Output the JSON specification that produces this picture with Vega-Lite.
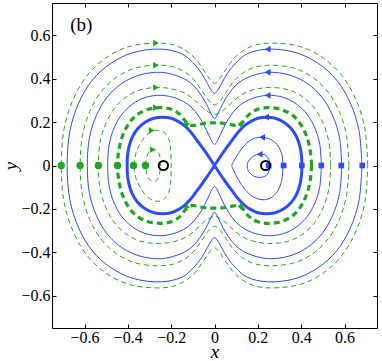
{
"$schema":"https://vega.github.io/schema/vega-lite/v6.json",
"width":325,"height":325,
"autosize":{"type":"none"},
"padding":{"left":52,"top":3,"right":5,"bottom":33},
"background":"white",
"config":{"view":{"stroke":null},
"axis":{"domainColor":"#000","domainWidth":1,"tickColor":"#000","tickWidth":1,"tickSize":-4,"labelColor":"#000","labelFont":"Liberation Serif","labelFontSize":16,"titleFont":"Liberation Serif","titleFontSize":19,"titleFontStyle":"italic","titleFontWeight":"normal","titleColor":"#000","grid":false}},
"datasets":{
"curves":[
{"c":"B6","x":0.68,"y":0},{"c":"B6","x":0.667,"y":0.161},{"c":"B6","x":0.627,"y":0.288},{"c":"B6","x":0.564,"y":0.394},{"c":"B6","x":0.479,"y":0.471},{"c":"B6","x":0.376,"y":0.521},{"c":"B6","x":0.245,"y":0.537},{"c":"B6","x":0.15,"y":0.515},{"c":"B6","x":0.1,"y":0.475},{"c":"B6","x":0.06,"y":0.426},{"c":"B6","x":0.032,"y":0.377},{"c":"B6","x":0.012,"y":0.343},{"c":"B6","x":0,"y":0.333},
{"c":"B6","x":-0.012,"y":0.343},{"c":"B6","x":-0.032,"y":0.377},{"c":"B6","x":-0.06,"y":0.426},{"c":"B6","x":-0.1,"y":0.475},{"c":"B6","x":-0.15,"y":0.515},{"c":"B6","x":-0.245,"y":0.537},{"c":"B6","x":-0.376,"y":0.521},{"c":"B6","x":-0.479,"y":0.471},{"c":"B6","x":-0.564,"y":0.394},{"c":"B6","x":-0.627,"y":0.288},{"c":"B6","x":-0.667,"y":0.161},{"c":"B6","x":-0.68,"y":0},
{"c":"B6","x":-0.667,"y":-0.161},{"c":"B6","x":-0.627,"y":-0.288},{"c":"B6","x":-0.564,"y":-0.394},{"c":"B6","x":-0.479,"y":-0.471},{"c":"B6","x":-0.376,"y":-0.521},{"c":"B6","x":-0.245,"y":-0.537},{"c":"B6","x":-0.15,"y":-0.515},{"c":"B6","x":-0.1,"y":-0.475},{"c":"B6","x":-0.06,"y":-0.426},{"c":"B6","x":-0.032,"y":-0.377},{"c":"B6","x":-0.012,"y":-0.343},{"c":"B6","x":0,"y":-0.333},
{"c":"B6","x":0.012,"y":-0.343},{"c":"B6","x":0.032,"y":-0.377},{"c":"B6","x":0.06,"y":-0.426},{"c":"B6","x":0.1,"y":-0.475},{"c":"B6","x":0.15,"y":-0.515},{"c":"B6","x":0.245,"y":-0.537},{"c":"B6","x":0.376,"y":-0.521},{"c":"B6","x":0.479,"y":-0.471},{"c":"B6","x":0.564,"y":-0.394},{"c":"B6","x":0.627,"y":-0.288},{"c":"B6","x":0.667,"y":-0.161},{"c":"B6","x":0.68,"y":0},

{"c":"B5","x":0.587,"y":0},{"c":"B5","x":0.577,"y":0.129},{"c":"B5","x":0.545,"y":0.231},{"c":"B5","x":0.496,"y":0.315},{"c":"B5","x":0.429,"y":0.378},{"c":"B5","x":0.348,"y":0.417},{"c":"B5","x":0.245,"y":0.43},{"c":"B5","x":0.15,"y":0.405},{"c":"B5","x":0.1,"y":0.372},{"c":"B5","x":0.065,"y":0.33},{"c":"B5","x":0.038,"y":0.285},{"c":"B5","x":0.016,"y":0.24},{"c":"B5","x":0,"y":0.216},
{"c":"B5","x":-0.016,"y":0.24},{"c":"B5","x":-0.038,"y":0.285},{"c":"B5","x":-0.065,"y":0.33},{"c":"B5","x":-0.1,"y":0.372},{"c":"B5","x":-0.15,"y":0.405},{"c":"B5","x":-0.245,"y":0.43},{"c":"B5","x":-0.348,"y":0.417},{"c":"B5","x":-0.429,"y":0.378},{"c":"B5","x":-0.496,"y":0.315},{"c":"B5","x":-0.545,"y":0.231},{"c":"B5","x":-0.577,"y":0.129},{"c":"B5","x":-0.587,"y":0},
{"c":"B5","x":-0.577,"y":-0.129},{"c":"B5","x":-0.545,"y":-0.231},{"c":"B5","x":-0.496,"y":-0.315},{"c":"B5","x":-0.429,"y":-0.378},{"c":"B5","x":-0.348,"y":-0.417},{"c":"B5","x":-0.245,"y":-0.43},{"c":"B5","x":-0.15,"y":-0.405},{"c":"B5","x":-0.1,"y":-0.372},{"c":"B5","x":-0.065,"y":-0.33},{"c":"B5","x":-0.038,"y":-0.285},{"c":"B5","x":-0.016,"y":-0.24},{"c":"B5","x":0,"y":-0.216},
{"c":"B5","x":0.016,"y":-0.24},{"c":"B5","x":0.038,"y":-0.285},{"c":"B5","x":0.065,"y":-0.33},{"c":"B5","x":0.1,"y":-0.372},{"c":"B5","x":0.15,"y":-0.405},{"c":"B5","x":0.245,"y":-0.43},{"c":"B5","x":0.348,"y":-0.417},{"c":"B5","x":0.429,"y":-0.378},{"c":"B5","x":0.496,"y":-0.315},{"c":"B5","x":0.545,"y":-0.231},{"c":"B5","x":0.577,"y":-0.129},{"c":"B5","x":0.587,"y":0},

{"c":"B4","x":0.493,"y":0},{"c":"B4","x":0.486,"y":0.097},{"c":"B4","x":0.463,"y":0.174},{"c":"B4","x":0.427,"y":0.237},{"c":"B4","x":0.378,"y":0.284},{"c":"B4","x":0.319,"y":0.314},{"c":"B4","x":0.245,"y":0.324},{"c":"B4","x":0.17,"y":0.308},{"c":"B4","x":0.12,"y":0.28},{"c":"B4","x":0.08,"y":0.238},{"c":"B4","x":0.05,"y":0.19},{"c":"B4","x":0.025,"y":0.138},{"c":"B4","x":0.009,"y":0.106},{"c":"B4","x":0,"y":0.097},
{"c":"B4","x":-0.009,"y":0.106},{"c":"B4","x":-0.025,"y":0.138},{"c":"B4","x":-0.05,"y":0.19},{"c":"B4","x":-0.08,"y":0.238},{"c":"B4","x":-0.12,"y":0.28},{"c":"B4","x":-0.17,"y":0.308},{"c":"B4","x":-0.245,"y":0.324},{"c":"B4","x":-0.319,"y":0.314},{"c":"B4","x":-0.378,"y":0.284},{"c":"B4","x":-0.427,"y":0.237},{"c":"B4","x":-0.463,"y":0.174},{"c":"B4","x":-0.486,"y":0.097},{"c":"B4","x":-0.493,"y":0},
{"c":"B4","x":-0.486,"y":-0.097},{"c":"B4","x":-0.463,"y":-0.174},{"c":"B4","x":-0.427,"y":-0.237},{"c":"B4","x":-0.378,"y":-0.284},{"c":"B4","x":-0.319,"y":-0.314},{"c":"B4","x":-0.245,"y":-0.324},{"c":"B4","x":-0.17,"y":-0.308},{"c":"B4","x":-0.12,"y":-0.28},{"c":"B4","x":-0.08,"y":-0.238},{"c":"B4","x":-0.05,"y":-0.19},{"c":"B4","x":-0.025,"y":-0.138},{"c":"B4","x":-0.009,"y":-0.106},{"c":"B4","x":0,"y":-0.097},
{"c":"B4","x":0.009,"y":-0.106},{"c":"B4","x":0.025,"y":-0.138},{"c":"B4","x":0.05,"y":-0.19},{"c":"B4","x":0.08,"y":-0.238},{"c":"B4","x":0.12,"y":-0.28},{"c":"B4","x":0.17,"y":-0.308},{"c":"B4","x":0.245,"y":-0.324},{"c":"B4","x":0.319,"y":-0.314},{"c":"B4","x":0.378,"y":-0.284},{"c":"B4","x":0.427,"y":-0.237},{"c":"B4","x":0.463,"y":-0.174},{"c":"B4","x":0.486,"y":-0.097},{"c":"B4","x":0.493,"y":0},

{"c":"B2","x":0.316,"y":0},{"c":"B2","x":0.31,"y":0.055},{"c":"B2","x":0.29,"y":0.095},{"c":"B2","x":0.26,"y":0.12},{"c":"B2","x":0.22,"y":0.13},{"c":"B2","x":0.18,"y":0.124},{"c":"B2","x":0.14,"y":0.095},{"c":"B2","x":0.11,"y":0.055},{"c":"B2","x":0.088,"y":0.018},{"c":"B2","x":0.08,"y":0},{"c":"B2","x":0.088,"y":-0.022},{"c":"B2","x":0.11,"y":-0.065},{"c":"B2","x":0.14,"y":-0.11},{"c":"B2","x":0.18,"y":-0.145},{"c":"B2","x":0.22,"y":-0.158},{"c":"B2","x":0.26,"y":-0.15},{"c":"B2","x":0.29,"y":-0.12},{"c":"B2","x":0.31,"y":-0.07},{"c":"B2","x":0.316,"y":0},

{"c":"B1","x":0.255,"y":0},{"c":"B1","x":0.25,"y":0.03},{"c":"B1","x":0.235,"y":0.048},{"c":"B1","x":0.208,"y":0.052},{"c":"B1","x":0.18,"y":0.043},{"c":"B1","x":0.16,"y":0.025},{"c":"B1","x":0.151,"y":0},{"c":"B1","x":0.158,"y":-0.028},{"c":"B1","x":0.18,"y":-0.048},{"c":"B1","x":0.21,"y":-0.055},{"c":"B1","x":0.24,"y":-0.045},{"c":"B1","x":0.252,"y":-0.025},{"c":"B1","x":0.255,"y":0},

{"c":"B3","x":0,"y":0},{"c":"B3","x":0.025,"y":0.038},{"c":"B3","x":0.05,"y":0.074},{"c":"B3","x":0.08,"y":0.115},{"c":"B3","x":0.11,"y":0.155},{"c":"B3","x":0.14,"y":0.185},{"c":"B3","x":0.17,"y":0.205},{"c":"B3","x":0.2,"y":0.218},{"c":"B3","x":0.238,"y":0.223},{"c":"B3","x":0.28,"y":0.218},{"c":"B3","x":0.32,"y":0.2},{"c":"B3","x":0.355,"y":0.17},{"c":"B3","x":0.38,"y":0.13},{"c":"B3","x":0.395,"y":0.085},{"c":"B3","x":0.402,"y":0.04},{"c":"B3","x":0.403,"y":0},{"c":"B3","x":0.402,"y":-0.04},{"c":"B3","x":0.395,"y":-0.085},{"c":"B3","x":0.38,"y":-0.13},{"c":"B3","x":0.355,"y":-0.17},{"c":"B3","x":0.32,"y":-0.2},{"c":"B3","x":0.28,"y":-0.218},{"c":"B3","x":0.238,"y":-0.223},{"c":"B3","x":0.2,"y":-0.218},{"c":"B3","x":0.17,"y":-0.205},{"c":"B3","x":0.14,"y":-0.185},{"c":"B3","x":0.11,"y":-0.155},{"c":"B3","x":0.08,"y":-0.115},{"c":"B3","x":0.05,"y":-0.074},{"c":"B3","x":0.025,"y":-0.038},{"c":"B3","x":0,"y":0},
{"c":"B3","x":-0.025,"y":0.038},{"c":"B3","x":-0.05,"y":0.074},{"c":"B3","x":-0.08,"y":0.115},{"c":"B3","x":-0.11,"y":0.155},{"c":"B3","x":-0.14,"y":0.185},{"c":"B3","x":-0.17,"y":0.205},{"c":"B3","x":-0.2,"y":0.218},{"c":"B3","x":-0.238,"y":0.223},{"c":"B3","x":-0.28,"y":0.218},{"c":"B3","x":-0.32,"y":0.2},{"c":"B3","x":-0.355,"y":0.17},{"c":"B3","x":-0.38,"y":0.13},{"c":"B3","x":-0.395,"y":0.085},{"c":"B3","x":-0.402,"y":0.04},{"c":"B3","x":-0.403,"y":0},{"c":"B3","x":-0.402,"y":-0.04},{"c":"B3","x":-0.395,"y":-0.085},{"c":"B3","x":-0.38,"y":-0.13},{"c":"B3","x":-0.355,"y":-0.17},{"c":"B3","x":-0.32,"y":-0.2},{"c":"B3","x":-0.28,"y":-0.218},{"c":"B3","x":-0.238,"y":-0.223},{"c":"B3","x":-0.2,"y":-0.218},{"c":"B3","x":-0.17,"y":-0.205},{"c":"B3","x":-0.14,"y":-0.185},{"c":"B3","x":-0.11,"y":-0.155},{"c":"B3","x":-0.08,"y":-0.115},{"c":"B3","x":-0.05,"y":-0.074},{"c":"B3","x":-0.025,"y":-0.038},{"c":"B3","x":0,"y":0},

{"c":"G6","x":0.707,"y":0},{"c":"G6","x":0.694,"y":0.17},{"c":"G6","x":0.653,"y":0.303},{"c":"G6","x":0.589,"y":0.414},{"c":"G6","x":0.502,"y":0.496},{"c":"G6","x":0.398,"y":0.548},{"c":"G6","x":0.265,"y":0.565},{"c":"G6","x":0.19,"y":0.557},{"c":"G6","x":0.14,"y":0.535},{"c":"G6","x":0.095,"y":0.5},{"c":"G6","x":0.06,"y":0.455},{"c":"G6","x":0.03,"y":0.41},{"c":"G6","x":0.01,"y":0.385},{"c":"G6","x":0,"y":0.38},
{"c":"G6","x":-0.01,"y":0.385},{"c":"G6","x":-0.03,"y":0.41},{"c":"G6","x":-0.06,"y":0.455},{"c":"G6","x":-0.095,"y":0.5},{"c":"G6","x":-0.14,"y":0.535},{"c":"G6","x":-0.19,"y":0.557},{"c":"G6","x":-0.265,"y":0.565},{"c":"G6","x":-0.398,"y":0.548},{"c":"G6","x":-0.502,"y":0.496},{"c":"G6","x":-0.589,"y":0.414},{"c":"G6","x":-0.653,"y":0.303},{"c":"G6","x":-0.694,"y":0.17},{"c":"G6","x":-0.707,"y":0},
{"c":"G6","x":-0.694,"y":-0.17},{"c":"G6","x":-0.653,"y":-0.303},{"c":"G6","x":-0.589,"y":-0.414},{"c":"G6","x":-0.502,"y":-0.496},{"c":"G6","x":-0.398,"y":-0.548},{"c":"G6","x":-0.265,"y":-0.565},{"c":"G6","x":-0.19,"y":-0.557},{"c":"G6","x":-0.14,"y":-0.535},{"c":"G6","x":-0.095,"y":-0.5},{"c":"G6","x":-0.06,"y":-0.455},{"c":"G6","x":-0.03,"y":-0.41},{"c":"G6","x":-0.01,"y":-0.385},{"c":"G6","x":0,"y":-0.38},
{"c":"G6","x":0.01,"y":-0.385},{"c":"G6","x":0.03,"y":-0.41},{"c":"G6","x":0.06,"y":-0.455},{"c":"G6","x":0.095,"y":-0.5},{"c":"G6","x":0.14,"y":-0.535},{"c":"G6","x":0.19,"y":-0.557},{"c":"G6","x":0.265,"y":-0.565},{"c":"G6","x":0.398,"y":-0.548},{"c":"G6","x":0.502,"y":-0.496},{"c":"G6","x":0.589,"y":-0.414},{"c":"G6","x":0.653,"y":-0.303},{"c":"G6","x":0.694,"y":-0.17},{"c":"G6","x":0.707,"y":0},

{"c":"G5","x":0.62,"y":0},{"c":"G5","x":0.609,"y":0.139},{"c":"G5","x":0.576,"y":0.249},{"c":"G5","x":0.524,"y":0.339},{"c":"G5","x":0.453,"y":0.407},{"c":"G5","x":0.368,"y":0.449},{"c":"G5","x":0.26,"y":0.463},{"c":"G5","x":0.19,"y":0.455},{"c":"G5","x":0.135,"y":0.43},{"c":"G5","x":0.09,"y":0.39},{"c":"G5","x":0.055,"y":0.34},{"c":"G5","x":0.025,"y":0.298},{"c":"G5","x":0,"y":0.28},
{"c":"G5","x":-0.025,"y":0.298},{"c":"G5","x":-0.055,"y":0.34},{"c":"G5","x":-0.09,"y":0.39},{"c":"G5","x":-0.135,"y":0.43},{"c":"G5","x":-0.19,"y":0.455},{"c":"G5","x":-0.26,"y":0.463},{"c":"G5","x":-0.368,"y":0.449},{"c":"G5","x":-0.453,"y":0.407},{"c":"G5","x":-0.524,"y":0.339},{"c":"G5","x":-0.576,"y":0.249},{"c":"G5","x":-0.609,"y":0.139},{"c":"G5","x":-0.62,"y":0},
{"c":"G5","x":-0.609,"y":-0.139},{"c":"G5","x":-0.576,"y":-0.249},{"c":"G5","x":-0.524,"y":-0.339},{"c":"G5","x":-0.453,"y":-0.407},{"c":"G5","x":-0.368,"y":-0.449},{"c":"G5","x":-0.26,"y":-0.463},{"c":"G5","x":-0.19,"y":-0.455},{"c":"G5","x":-0.135,"y":-0.43},{"c":"G5","x":-0.09,"y":-0.39},{"c":"G5","x":-0.055,"y":-0.34},{"c":"G5","x":-0.025,"y":-0.298},{"c":"G5","x":0,"y":-0.28},
{"c":"G5","x":0.025,"y":-0.298},{"c":"G5","x":0.055,"y":-0.34},{"c":"G5","x":0.09,"y":-0.39},{"c":"G5","x":0.135,"y":-0.43},{"c":"G5","x":0.19,"y":-0.455},{"c":"G5","x":0.26,"y":-0.463},{"c":"G5","x":0.368,"y":-0.449},{"c":"G5","x":0.453,"y":-0.407},{"c":"G5","x":0.524,"y":-0.339},{"c":"G5","x":0.576,"y":-0.249},{"c":"G5","x":0.609,"y":-0.139},{"c":"G5","x":0.62,"y":0},

{"c":"G4","x":0.536,"y":0},{"c":"G4","x":0.528,"y":0.108},{"c":"G4","x":0.502,"y":0.193},{"c":"G4","x":0.462,"y":0.264},{"c":"G4","x":0.408,"y":0.316},{"c":"G4","x":0.343,"y":0.349},{"c":"G4","x":0.26,"y":0.36},{"c":"G4","x":0.19,"y":0.352},{"c":"G4","x":0.13,"y":0.33},{"c":"G4","x":0.085,"y":0.295},{"c":"G4","x":0.05,"y":0.262},{"c":"G4","x":0.022,"y":0.243},{"c":"G4","x":0,"y":0.235},
{"c":"G4","x":-0.022,"y":0.243},{"c":"G4","x":-0.05,"y":0.262},{"c":"G4","x":-0.085,"y":0.295},{"c":"G4","x":-0.13,"y":0.33},{"c":"G4","x":-0.19,"y":0.352},{"c":"G4","x":-0.26,"y":0.36},{"c":"G4","x":-0.343,"y":0.349},{"c":"G4","x":-0.408,"y":0.316},{"c":"G4","x":-0.462,"y":0.264},{"c":"G4","x":-0.502,"y":0.193},{"c":"G4","x":-0.528,"y":0.108},{"c":"G4","x":-0.536,"y":0},
{"c":"G4","x":-0.528,"y":-0.108},{"c":"G4","x":-0.502,"y":-0.193},{"c":"G4","x":-0.462,"y":-0.264},{"c":"G4","x":-0.408,"y":-0.316},{"c":"G4","x":-0.343,"y":-0.349},{"c":"G4","x":-0.26,"y":-0.36},{"c":"G4","x":-0.19,"y":-0.352},{"c":"G4","x":-0.13,"y":-0.33},{"c":"G4","x":-0.085,"y":-0.295},{"c":"G4","x":-0.05,"y":-0.262},{"c":"G4","x":-0.022,"y":-0.243},{"c":"G4","x":0,"y":-0.235},
{"c":"G4","x":0.022,"y":-0.243},{"c":"G4","x":0.05,"y":-0.262},{"c":"G4","x":0.085,"y":-0.295},{"c":"G4","x":0.13,"y":-0.33},{"c":"G4","x":0.19,"y":-0.352},{"c":"G4","x":0.26,"y":-0.36},{"c":"G4","x":0.343,"y":-0.349},{"c":"G4","x":0.408,"y":-0.316},{"c":"G4","x":0.462,"y":-0.264},{"c":"G4","x":0.502,"y":-0.193},{"c":"G4","x":0.528,"y":-0.108},{"c":"G4","x":0.536,"y":0},

{"c":"G2","x":-0.372,"y":0},{"c":"G2","x":-0.362,"y":0.06},{"c":"G2","x":-0.346,"y":0.095},{"c":"G2","x":-0.315,"y":0.139},{"c":"G2","x":-0.27,"y":0.162},{"c":"G2","x":-0.235,"y":0.155},{"c":"G2","x":-0.212,"y":0.125},{"c":"G2","x":-0.203,"y":0.08},{"c":"G2","x":-0.2,"y":0},{"c":"G2","x":-0.203,"y":-0.08},{"c":"G2","x":-0.212,"y":-0.125},{"c":"G2","x":-0.235,"y":-0.157},{"c":"G2","x":-0.27,"y":-0.165},{"c":"G2","x":-0.315,"y":-0.14},{"c":"G2","x":-0.346,"y":-0.095},{"c":"G2","x":-0.362,"y":-0.06},{"c":"G2","x":-0.372,"y":0},

{"c":"G1","x":-0.318,"y":0},{"c":"G1","x":-0.312,"y":0.042},{"c":"G1","x":-0.295,"y":0.068},{"c":"G1","x":-0.272,"y":0.073},{"c":"G1","x":-0.256,"y":0.055},{"c":"G1","x":-0.25,"y":0.02},{"c":"G1","x":-0.251,"y":-0.02},{"c":"G1","x":-0.258,"y":-0.055},{"c":"G1","x":-0.275,"y":-0.073},{"c":"G1","x":-0.296,"y":-0.068},{"c":"G1","x":-0.312,"y":-0.042},{"c":"G1","x":-0.318,"y":0},

{"c":"G3","x":0.448,"y":0},{"c":"G3","x":0.443,"y":0.06},{"c":"G3","x":0.43,"y":0.12},{"c":"G3","x":0.405,"y":0.178},{"c":"G3","x":0.365,"y":0.228},{"c":"G3","x":0.31,"y":0.258},{"c":"G3","x":0.25,"y":0.267},{"c":"G3","x":0.2,"y":0.26},{"c":"G3","x":0.16,"y":0.236},{"c":"G3","x":0.13,"y":0.2},{"c":"G3","x":0.105,"y":0.185},{"c":"G3","x":0.07,"y":0.19},{"c":"G3","x":0.035,"y":0.196},{"c":"G3","x":0,"y":0.197},
{"c":"G3","x":-0.035,"y":0.196},{"c":"G3","x":-0.07,"y":0.19},{"c":"G3","x":-0.105,"y":0.185},{"c":"G3","x":-0.13,"y":0.2},{"c":"G3","x":-0.16,"y":0.236},{"c":"G3","x":-0.2,"y":0.26},{"c":"G3","x":-0.25,"y":0.267},{"c":"G3","x":-0.31,"y":0.258},{"c":"G3","x":-0.365,"y":0.228},{"c":"G3","x":-0.405,"y":0.178},{"c":"G3","x":-0.43,"y":0.12},{"c":"G3","x":-0.443,"y":0.06},{"c":"G3","x":-0.448,"y":0},
{"c":"G3","x":-0.443,"y":-0.06},{"c":"G3","x":-0.43,"y":-0.12},{"c":"G3","x":-0.405,"y":-0.178},{"c":"G3","x":-0.365,"y":-0.228},{"c":"G3","x":-0.31,"y":-0.258},{"c":"G3","x":-0.25,"y":-0.267},{"c":"G3","x":-0.2,"y":-0.26},{"c":"G3","x":-0.16,"y":-0.236},{"c":"G3","x":-0.13,"y":-0.2},{"c":"G3","x":-0.105,"y":-0.185},{"c":"G3","x":-0.07,"y":-0.19},{"c":"G3","x":-0.035,"y":-0.196},{"c":"G3","x":0,"y":-0.197},
{"c":"G3","x":0.035,"y":-0.196},{"c":"G3","x":0.07,"y":-0.19},{"c":"G3","x":0.105,"y":-0.185},{"c":"G3","x":0.13,"y":-0.2},{"c":"G3","x":0.16,"y":-0.236},{"c":"G3","x":0.2,"y":-0.26},{"c":"G3","x":0.25,"y":-0.267},{"c":"G3","x":0.31,"y":-0.258},{"c":"G3","x":0.365,"y":-0.228},{"c":"G3","x":0.405,"y":-0.178},{"c":"G3","x":0.43,"y":-0.12},{"c":"G3","x":0.443,"y":-0.06},{"c":"G3","x":0.448,"y":0}
],
"pts":[
{"k":"gdot","x":-0.707,"y":0},{"k":"gdot","x":-0.62,"y":0},{"k":"gdot","x":-0.536,"y":0},{"k":"gdot","x":-0.448,"y":0},{"k":"gdot","x":-0.374,"y":0},{"k":"gdot","x":-0.319,"y":0},
{"k":"bsq","x":0.25,"y":0},{"k":"bsq","x":0.319,"y":0},{"k":"bsq","x":0.403,"y":0},{"k":"bsq","x":0.493,"y":0},{"k":"bsq","x":0.585,"y":0},{"k":"bsq","x":0.682,"y":0},
{"k":"circ","x":-0.236,"y":0},{"k":"circ","x":0.236,"y":0},
{"k":"barrow","x":0.245,"y":0.537},{"k":"barrow","x":0.245,"y":0.43},{"k":"barrow","x":0.245,"y":0.324},{"k":"barrow","x":0.238,"y":0.223},{"k":"barrow","x":0.22,"y":0.13},{"k":"barrow","x":0.208,"y":0.052},
{"k":"garrow","x":-0.27,"y":0.565},{"k":"garrow","x":-0.27,"y":0.463},{"k":"garrow","x":-0.27,"y":0.36},{"k":"garrow","x":-0.27,"y":0.267},{"k":"garrow","x":-0.29,"y":0.162},{"k":"garrow","x":-0.285,"y":0.073},
{"k":"gtip","dir":"dr","x":-0.125,"y":0.19},{"k":"gtip","dir":"ur","x":0.125,"y":0.19},{"k":"gtip","dir":"ul","x":0.125,"y":-0.19},{"k":"gtip","dir":"dl","x":-0.125,"y":-0.19}
]},
"encoding":{
"x":{"field":"x","type":"quantitative","scale":{"domain":[-0.75,0.75],"nice":false,"zero":false},"axis":null},
"y":{"field":"y","type":"quantitative","scale":{"domain":[-0.75,0.75],"nice":false,"zero":false},"axis":null}
},
"layer":[
{"data":{"name":"curves"},"transform":[{"filter":{"field":"c","oneOf":["G1","G2","G4","G5","G6"]}}],
 "mark":{"type":"line","interpolate":"catmull-rom","color":"#22a522","strokeWidth":1,"strokeDash":[5,3.5]},
 "encoding":{"detail":{"field":"c"},"order":{"value":null}}},
{"data":{"name":"curves"},"transform":[{"filter":{"field":"c","oneOf":["B1","B2","B4","B5","B6"]}}],
 "mark":{"type":"line","interpolate":"catmull-rom","color":"#2d4cff","strokeWidth":1},
 "encoding":{"detail":{"field":"c"},"order":{"value":null},
  "x":{"field":"x","type":"quantitative","scale":{"domain":[-0.75,0.75],"nice":false,"zero":false},
   "axis":{"orient":"bottom","values":[-0.6,-0.4,-0.2,0,0.2,0.4,0.6],"labelExpr":"datum.value == 0 ? '0' : format(datum.value, '.1f')","labelPadding":5,"title":"x","titleY":29,"titleBaseline":"alphabetic"}},
  "y":{"field":"y","type":"quantitative","scale":{"domain":[-0.75,0.75],"nice":false,"zero":false},
   "axis":{"orient":"left","values":[-0.6,-0.4,-0.2,0,0.2,0.4,0.6],"labelExpr":"datum.value == 0 ? '0' : format(datum.value, '.1f')","labelPadding":6,"title":"y","titleX":-42,"titleBaseline":"middle"}}}},
{"data":{"name":"curves"},"transform":[{"filter":{"field":"c","equal":"B3"}}],
 "mark":{"type":"line","interpolate":"catmull-rom","color":"#2d4cff","strokeWidth":3},
 "encoding":{"detail":{"field":"c"},"order":{"value":null}}},
{"data":{"name":"curves"},"transform":[{"filter":{"field":"c","equal":"G3"}}],
 "mark":{"type":"line","interpolate":"catmull-rom","color":"#22a522","strokeWidth":3.2,"strokeDash":[6,4]},
 "encoding":{"detail":{"field":"c"},"order":{"value":null}}},
{"data":{"name":"pts"},"transform":[{"filter":{"field":"k","equal":"gdot"}}],
 "mark":{"type":"point","shape":"circle","filled":true,"color":"#22a522","size":55,"opacity":1}},
{"data":{"name":"pts"},"transform":[{"filter":{"field":"k","equal":"bsq"}}],
 "mark":{"type":"point","shape":"square","filled":true,"color":"#2d4cff","size":32,"opacity":1}},
{"data":{"name":"pts"},"transform":[{"filter":{"field":"k","equal":"barrow"}}],
 "mark":{"type":"point","shape":"triangle-left","filled":true,"color":"#2d4cff","size":45,"opacity":1}},
{"data":{"name":"pts"},"transform":[{"filter":{"field":"k","equal":"garrow"}}],
 "mark":{"type":"point","shape":"triangle-right","filled":true,"color":"#22a522","size":45,"opacity":1}},
{"data":{"name":"pts"},"transform":[{"filter":{"field":"k","equal":"gtip"}}],
 "mark":{"type":"point","shape":"triangle-up","filled":true,"color":"#22a522","size":40,"opacity":1},
 "encoding":{"angle":{"field":"dir","type":"nominal","scale":{"domain":["ur","dr","dl","ul"],"range":[45,135,225,315]},"legend":null}}},
{"data":{"name":"pts"},"transform":[{"filter":{"field":"k","equal":"circ"}}],
 "mark":{"type":"point","shape":"circle","filled":false,"color":"#000","strokeWidth":2,"size":85,"opacity":1},
 "encoding":{
  "x":{"field":"x","type":"quantitative","scale":{"domain":[-0.75,0.75],"nice":false,"zero":false},
   "axis":{"orient":"top","values":[-0.6,-0.4,-0.2,0,0.2,0.4,0.6],"labels":false,"title":null}},
  "y":{"field":"y","type":"quantitative","scale":{"domain":[-0.75,0.75],"nice":false,"zero":false},
   "axis":{"orient":"right","values":[-0.6,-0.4,-0.2,0,0.2,0.4,0.6],"labels":false,"title":null}}}},
{"data":{"values":[{"x":-0.615,"y":0.648,"t":"(b)"}]},
 "mark":{"type":"text","font":"Liberation Serif","fontSize":19,"align":"center","baseline":"middle","color":"#000"},
 "encoding":{"text":{"field":"t"}}}
],
"resolve":{"axis":{"x":"independent","y":"independent"}}
}
